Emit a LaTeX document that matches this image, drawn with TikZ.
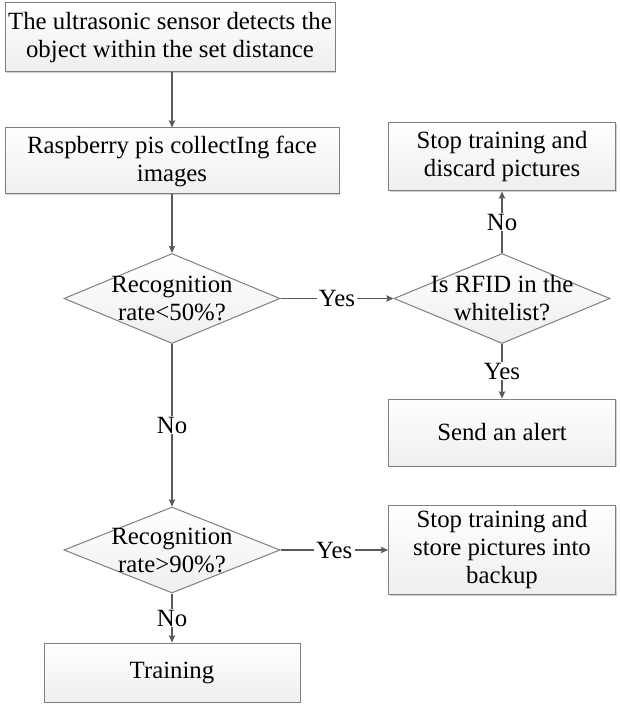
\documentclass[tikz,border=0pt]{standalone}
\usepackage{fontspec}
\setmainfont{Liberation Serif}
\usetikzlibrary{shapes.geometric,arrows.meta,shadows}

\definecolor{edgegray}{HTML}{5A5A5A}
\definecolor{boxline}{HTML}{7F7F7F}

\tikzset{
  txt/.style={font=\fontsize{12.4}{14}\selectfont, align=center},
  block/.style={txt, draw=boxline, line width=0.5pt, top color=white, bottom color=gray!13,
    inner sep=0pt, drop shadow={shadow xshift=0.6pt, shadow yshift=-0.6pt, fill=gray!60, opacity=0.6}},
  decision/.style={diamond, draw=boxline, line width=0.5pt, top color=white, bottom color=gray!13,
    inner sep=0pt, minimum width=108pt, minimum height=45pt},
  flow/.style={draw=edgegray, line width=0.55pt, -{Stealth[length=3.6pt, width=3.2pt, inset=0.6pt]}},
  lbl/.style={txt, fill=white, inner xsep=1.2pt, inner ysep=0.5pt}
}

\begin{document}
\begin{tikzpicture}[x=0.5pt, y=-0.5pt]
\useasboundingbox (0,0) rectangle (619,704);

% Detection et acquisition
\node[block, minimum width=165pt, minimum height=34.5pt] (sensor) at (170,37.5) {The ultrasonic sensor detects the\\object within the set distance};
\node[block, minimum width=167pt, minimum height=33pt] (collect) at (172,161) {Raspberry pis collectIng face\\images};

% Premier test
\node[decision] (rate50) at (172,298.5) {};
\node[txt] at (rate50) {Recognition\\rate<50\%?};

% Controle RFID
\node[decision] (rfid) at (502,298.5) {};
\node[txt] at (rfid) {Is RFID in the\\whitelist?};
\node[block, minimum width=113.5pt, minimum height=34pt] (discard) at (502,157) {Stop training and\\discard pictures};
\node[block, minimum width=113.5pt, minimum height=33.5pt] (alert) at (502,432.5) {Send an alert};

% Second test
\node[decision, minimum height=43pt] (rate90) at (172,550) {};
\node[txt] at (rate90) {Recognition\\rate>90\%?};
\node[block, minimum width=113.5pt, minimum height=44.5pt] (backup) at (502,550) {Stop training and\\store pictures into\\backup};
\node[block, minimum width=128pt, minimum height=29.5pt] (training) at (172,672.5) {Training};

% Fleches
\draw[flow] (sensor.south -| collect.north) -- (collect.north);
\draw[flow] (collect.south) -- (rate50.north);
\draw[flow] (rate50.east) -- node[lbl] {Yes} (rfid.west);
\draw[flow] (rfid.north) -- node[lbl] {No} (discard.south);
\draw[flow] (rfid.south) -- node[lbl] {Yes} (alert.north);
\draw[flow] (rate50.south) -- node[lbl] {No} (rate90.north);
\draw[flow] (rate90.east) -- node[lbl] {Yes} (backup.west);
\draw[flow] (rate90.south) -- node[lbl] {No} (training.north);

\end{tikzpicture}
\end{document}
